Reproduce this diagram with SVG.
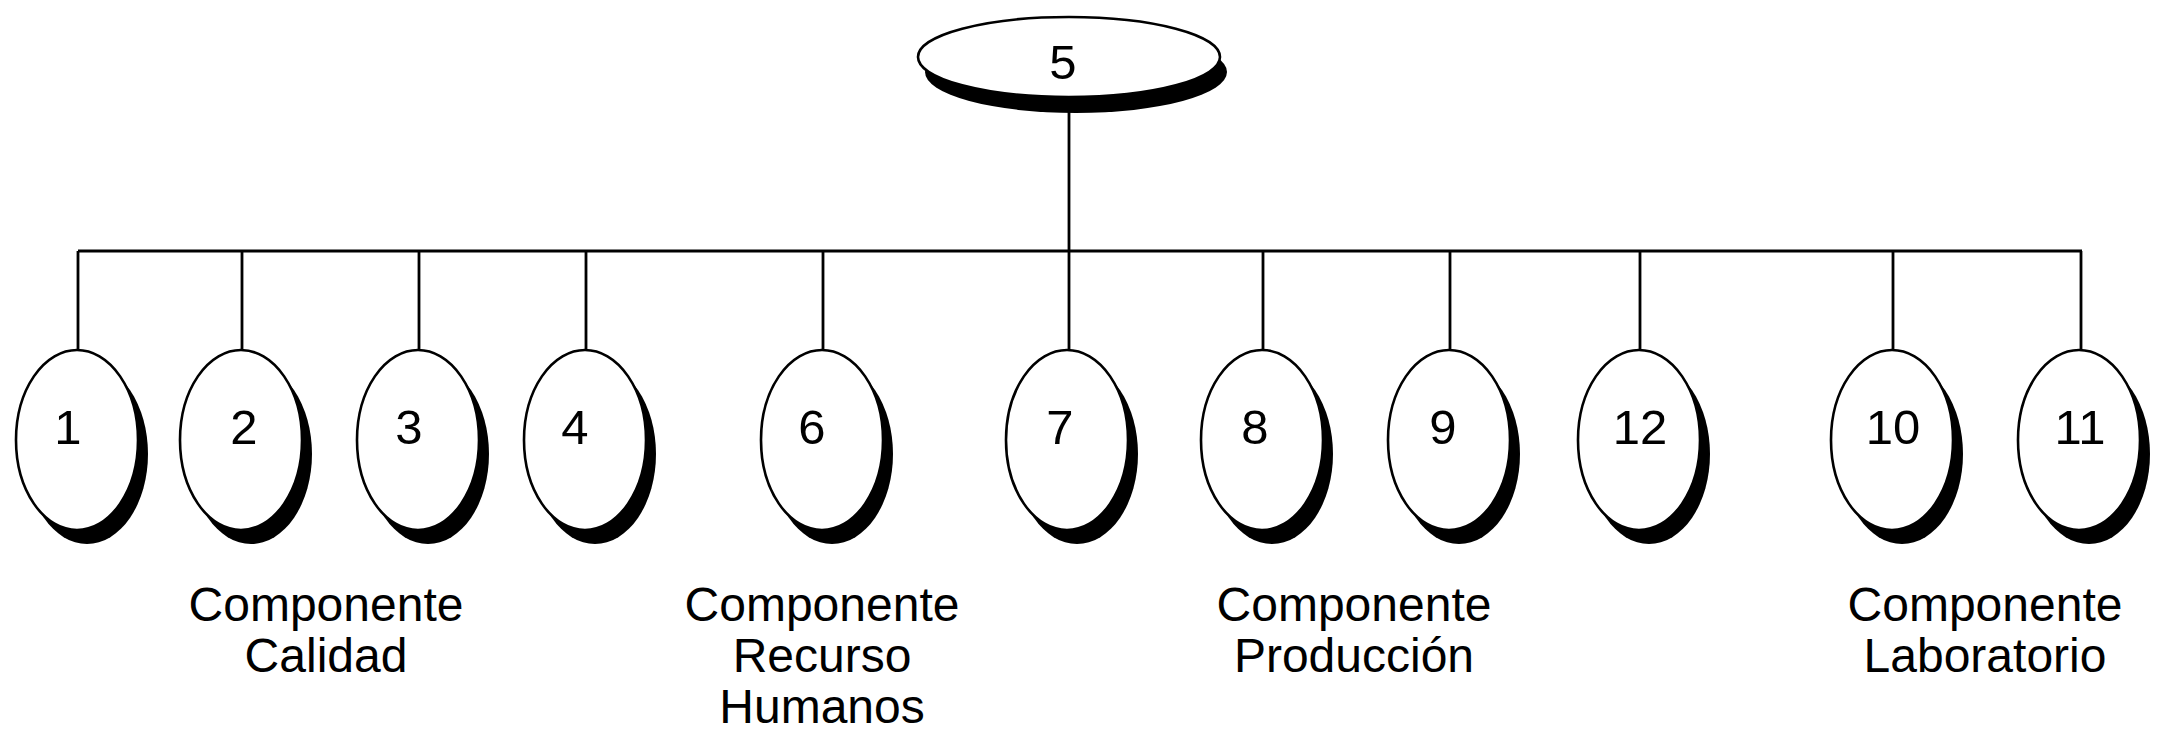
<svg xmlns="http://www.w3.org/2000/svg" width="2159" height="737" viewBox="0 0 2159 737">
<style>
.sh{fill:#000}
.nd{fill:#fff;stroke:#000;stroke-width:2.6}
.num{font-family:"Liberation Sans",Arial,sans-serif;font-size:49px;fill:#000;text-anchor:middle}
.lbl{font-family:"Liberation Sans",Arial,sans-serif;font-size:48px;fill:#000;text-anchor:middle}
.ln{stroke:#000;stroke-width:2.8;fill:none}
</style>
<rect width="2159" height="737" fill="#fff"/>
<g id="connectors">
<path class="ln" d="M1069 98V251M78 251H2082M78 251V350M242 251V350M419 251V350M586 251V350M823 251V350M1069 251V350M1263 251V350M1450 251V350M1640 251V350M1893 251V350M2081 251V350"/>
</g>
<g id="node5">
<ellipse class="sh" cx="1076" cy="72" rx="151" ry="41"/>
<ellipse class="nd" cx="1069" cy="57" rx="151" ry="40"/>
<text class="num" x="1063" y="79">5</text>
</g>
<g id="node1"><ellipse class="sh" cx="87" cy="454" rx="61" ry="90"/><ellipse class="nd" cx="77" cy="440" rx="61" ry="90"/><text class="num" x="68" y="444">1</text></g>
<g id="node2"><ellipse class="sh" cx="251" cy="454" rx="61" ry="90"/><ellipse class="nd" cx="241" cy="440" rx="61" ry="90"/><text class="num" x="244" y="444">2</text></g>
<g id="node3"><ellipse class="sh" cx="428" cy="454" rx="61" ry="90"/><ellipse class="nd" cx="418" cy="440" rx="61" ry="90"/><text class="num" x="409" y="444">3</text></g>
<g id="node4"><ellipse class="sh" cx="595" cy="454" rx="61" ry="90"/><ellipse class="nd" cx="585" cy="440" rx="61" ry="90"/><text class="num" x="575" y="444">4</text></g>
<g id="node6"><ellipse class="sh" cx="832" cy="454" rx="61" ry="90"/><ellipse class="nd" cx="822" cy="440" rx="61" ry="90"/><text class="num" x="812" y="444">6</text></g>
<g id="node7"><ellipse class="sh" cx="1077" cy="454" rx="61" ry="90"/><ellipse class="nd" cx="1067" cy="440" rx="61" ry="90"/><text class="num" x="1060" y="444">7</text></g>
<g id="node8"><ellipse class="sh" cx="1272" cy="454" rx="61" ry="90"/><ellipse class="nd" cx="1262" cy="440" rx="61" ry="90"/><text class="num" x="1255" y="444">8</text></g>
<g id="node9"><ellipse class="sh" cx="1459" cy="454" rx="61" ry="90"/><ellipse class="nd" cx="1449" cy="440" rx="61" ry="90"/><text class="num" x="1443" y="444">9</text></g>
<g id="node12"><ellipse class="sh" cx="1649" cy="454" rx="61" ry="90"/><ellipse class="nd" cx="1639" cy="440" rx="61" ry="90"/><text class="num" x="1640" y="444">12</text></g>
<g id="node10"><ellipse class="sh" cx="1902" cy="454" rx="61" ry="90"/><ellipse class="nd" cx="1892" cy="440" rx="61" ry="90"/><text class="num" x="1893" y="444">10</text></g>
<g id="node11"><ellipse class="sh" cx="2089" cy="454" rx="61" ry="90"/><ellipse class="nd" cx="2079" cy="440" rx="61" ry="90"/><text class="num" x="2080" y="444">11</text></g>
<g id="label-calidad"><text class="lbl" x="326" y="621">Componente</text><text class="lbl" x="326" y="672">Calidad</text></g>
<g id="label-rrhh"><text class="lbl" x="822" y="621">Componente</text><text class="lbl" x="822" y="672">Recurso</text><text class="lbl" x="822" y="723">Humanos</text></g>
<g id="label-produccion"><text class="lbl" x="1354" y="621">Componente</text><text class="lbl" x="1354" y="672">Producción</text></g>
<g id="label-laboratorio"><text class="lbl" x="1985" y="621">Componente</text><text class="lbl" x="1985" y="672">Laboratorio</text></g>
</svg>
